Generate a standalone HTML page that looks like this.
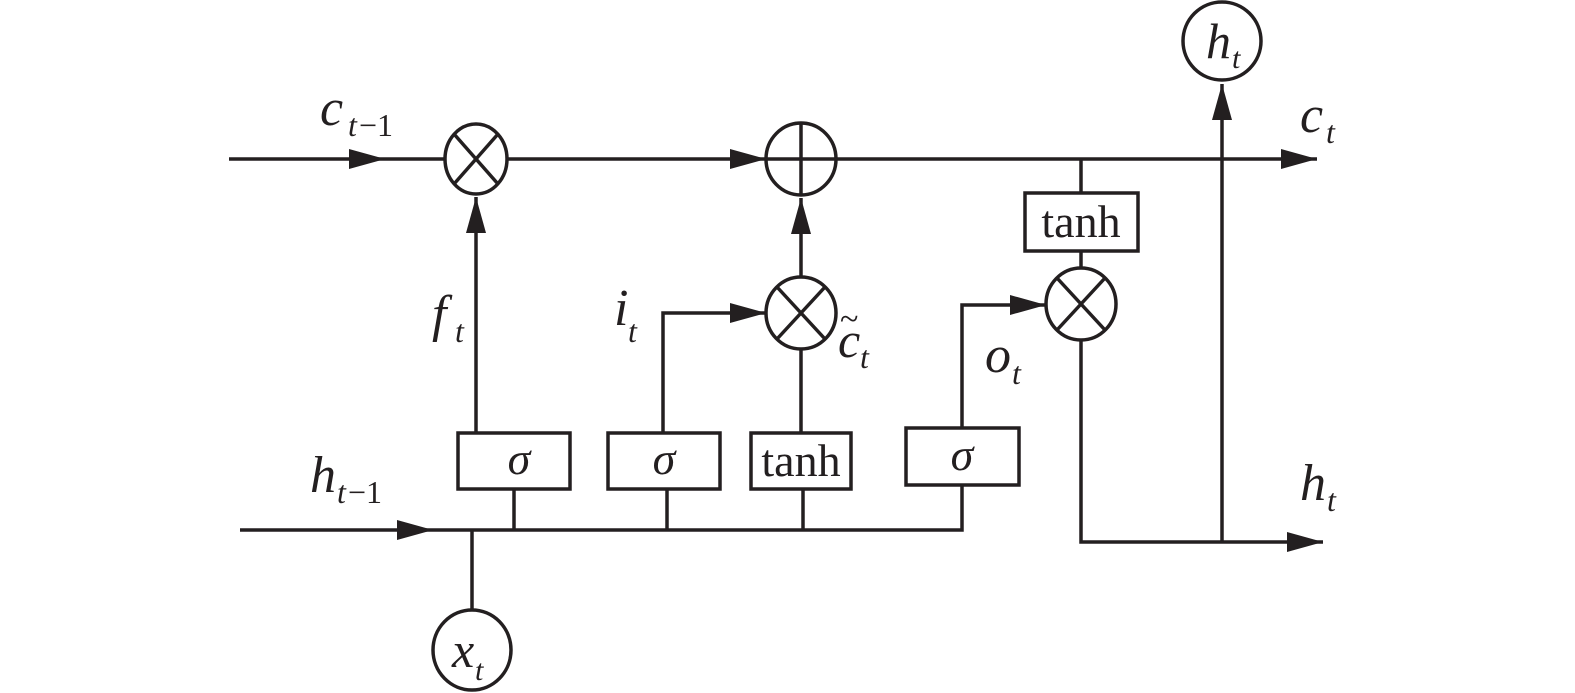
<!DOCTYPE html>
<html><head><meta charset="utf-8"><style>
html,body{margin:0;padding:0;background:#fff;}
svg{display:block;}
text{font-family:"Liberation Serif",serif;fill:#231f20;}
.i{font-style:italic;}
</style></head><body>
<svg width="1575" height="693" viewBox="0 0 1575 693" xmlns="http://www.w3.org/2000/svg">
<defs>
<marker id="a" viewBox="0 0 36 20" refX="36" refY="10" markerWidth="36" markerHeight="20" markerUnits="userSpaceOnUse" orient="auto"><path d="M0,0 L36,10 L0,20 Z" fill="#231f20"/></marker>
</defs>
<g stroke="#231f20" stroke-width="3.5" fill="none">
<!-- top cell line -->
<line x1="229" y1="159" x2="385" y2="159" marker-end="url(#a)"/>
<line x1="385" y1="159" x2="446" y2="159"/>
<line x1="507" y1="159" x2="766" y2="159" marker-end="url(#a)"/>
<line x1="836" y1="159" x2="1317" y2="159" marker-end="url(#a)"/>
<!-- multiply circle 1 -->
<ellipse cx="476" cy="159" rx="31" ry="35"/>
<line x1="454" y1="134" x2="498" y2="184"/><line x1="498" y1="134" x2="454" y2="184"/>
<!-- plus circle -->
<ellipse cx="801" cy="159" rx="35" ry="36"/>
<line x1="766" y1="159" x2="836" y2="159"/><line x1="801" y1="123" x2="801" y2="195"/>
<!-- f arrow -->
<line x1="476" y1="433" x2="476" y2="197" marker-end="url(#a)"/>
<!-- c~ mult -->
<ellipse cx="801" cy="313" rx="35" ry="36"/>
<line x1="777" y1="287" x2="825" y2="339"/><line x1="825" y1="287" x2="777" y2="339"/>
<line x1="801" y1="277" x2="801" y2="198" marker-end="url(#a)"/>
<line x1="801" y1="349" x2="801" y2="433"/>
<!-- i path -->
<polyline points="663,433 663,313 766,313" marker-end="url(#a)"/>
<!-- boxes -->
<rect x="458" y="433" width="112" height="56"/>
<rect x="608" y="433" width="112" height="56"/>
<rect x="751" y="433" width="100" height="56"/>
<rect x="906" y="428" width="113" height="57"/>
<!-- h line -->
<line x1="240" y1="530" x2="433" y2="530" marker-end="url(#a)"/>
<polyline points="433,530 962,530 962,485"/>
<line x1="514" y1="489" x2="514" y2="530"/>
<line x1="667" y1="489" x2="667" y2="530"/>
<line x1="803" y1="489" x2="803" y2="530"/>
<line x1="472" y1="530" x2="472" y2="611"/>
<ellipse cx="472" cy="650" rx="39" ry="40"/>
<!-- o path -->
<polyline points="962,428 962,305 1046,305" marker-end="url(#a)"/>
<ellipse cx="1081" cy="304" rx="35" ry="36"/>
<line x1="1057" y1="278" x2="1105" y2="330"/><line x1="1105" y1="278" x2="1057" y2="330"/>
<line x1="1081" y1="159" x2="1081" y2="193"/>
<rect x="1025" y="193" width="113" height="58"/>
<line x1="1081" y1="251" x2="1081" y2="268"/>
<polyline points="1081,340 1081,542 1323,542" marker-end="url(#a)"/>
<line x1="1222" y1="542" x2="1222" y2="84" marker-end="url(#a)"/>
<ellipse cx="1222" cy="41" rx="39" ry="39"/>
</g>
<!-- labels -->
<text x="320" y="125" class="i" font-size="52">c</text><text x="348" y="136" class="i" font-size="32">t</text><text x="359" y="136" font-size="32">−1</text>
<text x="310" y="492" class="i" font-size="52">h</text><text x="337" y="503" class="i" font-size="32">t</text><text x="348" y="503" font-size="32">−1</text>
<text x="432" y="331" class="i" font-size="52">f</text><text x="455" y="342" class="i" font-size="32">t</text>
<text x="614" y="325" class="i" font-size="52">i</text><text x="628" y="342" class="i" font-size="32">t</text>
<text x="838" y="357" class="i" font-size="50">c</text><text x="840" y="330" font-size="34">~</text><text x="860" y="368" class="i" font-size="32">t</text>
<text x="985" y="372" class="i" font-size="52">o</text><text x="1012" y="384" class="i" font-size="32">t</text>
<text x="1300" y="132" class="i" font-size="52">c</text><text x="1326" y="143" class="i" font-size="32">t</text>
<text x="1300" y="500" class="i" font-size="52">h</text><text x="1327" y="511" class="i" font-size="32">t</text>
<text x="1206" y="58" class="i" font-size="50">h</text><text x="1232" y="68" class="i" font-size="30">t</text>
<text x="452" y="667" class="i" font-size="50">x</text><text x="475" y="680" class="i" font-size="30">t</text>
<text x="519" y="474" text-anchor="middle" class="i" font-size="46">σ</text>
<text x="664" y="474" text-anchor="middle" class="i" font-size="46">σ</text>
<text x="801" y="476" text-anchor="middle" font-size="46">tanh</text>
<text x="962" y="470" text-anchor="middle" class="i" font-size="46">σ</text>
<text x="1081" y="237" text-anchor="middle" font-size="46">tanh</text>
</svg>
</body></html>
